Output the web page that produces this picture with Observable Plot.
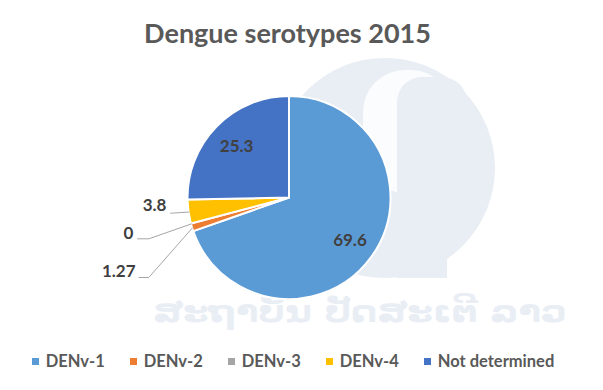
<!DOCTYPE html>
<html>
<head>
<meta charset="utf-8">
<script src="https://cdn.jsdelivr.net/npm/d3@7"></script>
<script src="https://cdn.jsdelivr.net/npm/@observablehq/plot@0.6"></script>
<style>
  html, body { margin: 0; padding: 0; background: #fff; }
  body { position: relative; width: 603px; height: 390px; overflow: hidden; font-family: Lato, "Open Sans", sans-serif; }
  #watermark { position: absolute; left: 0; top: 0; z-index: 0; }
  #title, #chart, #legend { position: relative; z-index: 1; }
  #title { height: 60px; box-sizing: border-box; padding-top: 18px; padding-right: 28px;
           text-align: center; font-size: 27px; line-height: 30px; font-weight: bold; color: #595959; }
  #chart svg { display: block; }
  #legend { margin-top: 6px; height: 20px; display: flex; justify-content: center; align-items: center;
            padding-right: 17px; font-size: 16.5px; line-height: 20px; font-weight: bold; color: #595959; }
  .item { display: flex; align-items: center; margin-right: 25px; }
  .item:last-child { margin-right: 0; }
  .sw { width: 7px; height: 7px; margin-right: 7px; }
</style>
</head>
<body>
<div id="watermark"></div>
<div id="title"></div>
<div id="chart"></div>
<div id="legend"></div>
<script>
// ---- data ----
const titleText = "Dengue serotypes 2015";
const categories = ["DENv-1", "DENv-2", "DENv-3", "DENv-4", "Not determined"];
const values = [69.6, 1.27, 0, 3.8, 25.3];
const colors = ["#5B9BD5", "#ED7D31", "#A5A5A5", "#FFC000", "#4472C4"];
const insideLabels = ["DENv-1", "Not determined"];
const watermarkText = "ສະຖາບັນ ປັດສະເຕີ ລາວ";

// ---- layout (in pie-radius units; label placement as in the original) ----
const callouts = [
  {category: "DENv-4", tx: -1.212, ty: -0.079, sx: -1.172, sy: -0.150, ex: -1.172, ey: -0.150},
  {category: "DENv-3", tx: -1.537, ty: -0.350, sx: -1.498, sy: -0.402, ex: -1.386, ey: -0.402},
  {category: "DENv-2", tx: -1.517, ty: -0.724, sx: -1.483, sy: -0.783, ex: -1.386, ey: -0.783}
];

// ---- faint background logo (decoration of the original picture) ----
(function () {
  const wm = d3.select("#watermark").append("svg").attr("width", 603).attr("height", 390);
  const light = "#e9eef5";
  wm.append("circle").attr("cx", 385).attr("cy", 168).attr("r", 110).attr("fill", light);
  wm.append("rect").attr("x", 363).attr("y", 70).attr("width", 90).attr("height", 123).attr("rx", 42).attr("fill", "#fbfcfd");
  wm.append("rect").attr("x", 397).attr("y", 77).attr("width", 70).attr("height", 100).attr("rx", 25).attr("fill", light);
  wm.append("rect").attr("x", 397).attr("y", 150).attr("width", 50).attr("height", 128).attr("fill", light);
  wm.append("text").attr("x", 153).attr("y", 322).attr("textLength", 414).attr("lengthAdjust", "spacingAndGlyphs")
    .attr("font-family", "DejaVu Sans").attr("font-weight", "bold").attr("font-size", 30)
    .attr("fill", light).text(watermarkText);
})();

const data = categories.map((c, i) => ({category: c, value: values[i], label: String(values[i])}));
const arcs = d3.pie().sort(null).value(d => d.value)(data);
const byCat = new Map(arcs.map(a => [a.data.category, a]));
const mid = a => (a.startAngle + a.endAngle) / 2;

const color = Plot.scale({color: {type: "ordinal", domain: categories, range: colors}});

document.getElementById("title").textContent = titleText;

const inside = insideLabels.map(c => {
  const a = byCat.get(c);
  return {label: a.data.label, x: 0.73 * Math.sin(mid(a)), y: 0.73 * Math.cos(mid(a))};
});
const outside = callouts.map(o => ({label: byCat.get(o.category).data.label, x: o.tx, y: o.ty}));
const leaders = callouts.flatMap(o => {
  const a = byCat.get(o.category);
  const m = mid(a);
  return [
    {k: o.category, x: o.sx, y: o.sy},
    {k: o.category, x: o.ex, y: o.ey},
    {k: o.category, x: Math.sin(m), y: Math.cos(m)}
  ];
});

const slices = (index, scales) => {
  const x0 = scales.x(0), y0 = scales.y(0), r = scales.x(1) - scales.x(0);
  const arc = d3.arc().innerRadius(0).outerRadius(r);
  const g = d3.create("svg:g").attr("transform", `translate(${x0},${y0})`);
  g.selectAll("path").data(arcs.filter(a => a.data.value > 0)).join("path")
    .attr("d", arc)
    .attr("fill", d => color.apply(d.data.category))
    .attr("stroke", "#fff").attr("stroke-width", 2).attr("stroke-linejoin", "round");
  return g.node();
};

const chart = Plot.plot({
  width: 603,
  height: 285,
  margin: 0,
  x: {type: "linear", domain: [-1, 1], range: [187.5, 390.5], axis: null},
  y: {type: "linear", domain: [-1, 1], range: [239, 36], axis: null},
  style: {background: "transparent", fontFamily: "Lato, 'Open Sans', sans-serif"},
  marks: [
    slices,
    Plot.line(leaders, {x: "x", y: "y", z: "k", stroke: "#A6A6A6", strokeWidth: 1, curve: "linear"}),
    Plot.text(inside, {x: "x", y: "y", text: "label", fill: "#404040", fontSize: 17, fontWeight: "bold"}),
    Plot.text(outside, {x: "x", y: "y", text: "label", fill: "#404040", fontSize: 17, fontWeight: "bold", textAnchor: "end"})
  ]
});
document.getElementById("chart").appendChild(chart);

const legend = d3.select("#legend");
const items = legend.selectAll(".item").data(categories).join("div").attr("class", "item");
items.append("div").attr("class", "sw").style("background", d => color.apply(d));
items.append("span").text(d => d);
</script>
</body>
</html>
